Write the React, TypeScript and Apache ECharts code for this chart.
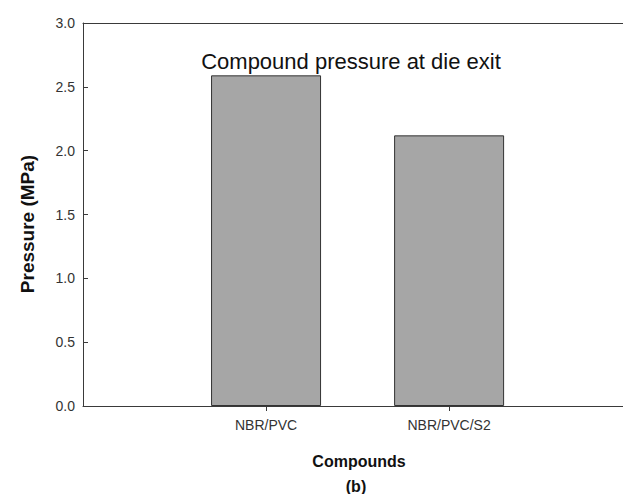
import React, { useEffect, useRef } from "react";
import * as echarts from "echarts";

const categories = ["NBR/PVC", "NBR/PVC/S2"];
const positions = [1, 2];
const pressures = [2.59, 2.12];
const yTicks = [0, 0.5, 1.0, 1.5, 2.0, 2.5, 3.0];

const FONT = '"Liberation Sans", Arial, Helvetica, sans-serif';

export default function App() {
  const ref = useRef<HTMLDivElement>(null);
  useEffect(() => {
    if (!ref.current) return;
    const chart = echarts.init(ref.current, null, { renderer: "svg" });
    const axisColor = "#3a3a3a";
    chart.setOption({
      animation: false,
      backgroundColor: "#ffffff",
      textStyle: { fontFamily: FONT },
      grid: { left: 83, top: 23, right: 0, bottom: 88 },
      xAxis: [
        {
          type: "value",
          min: 0,
          max: 2.95,
          interval: 1,
          position: "bottom",
          splitLine: { show: false },
          axisLine: { show: true, lineStyle: { color: axisColor, width: 1 } },
          axisTick: {
            show: true,
            inside: false,
            length: 5,
            customValues: positions,
            lineStyle: { color: axisColor },
          },
          axisLabel: {
            customValues: positions,
            margin: 12,
            fontSize: 14,
            color: "#333",
            fontFamily: FONT,
            formatter: (v: number) => {
              const i = positions.indexOf(Math.round(v));
              return i >= 0 ? categories[i] : "";
            },
          },
        },
        {
          type: "value",
          min: 0,
          max: 2.95,
          position: "top",
          splitLine: { show: false },
          axisLine: { show: true, lineStyle: { color: axisColor, width: 1 } },
          axisTick: { show: false },
          axisLabel: { show: false },
        },
      ],
      yAxis: {
        type: "value",
        min: yTicks[0],
        max: yTicks[yTicks.length - 1],
        interval: 0.5,
        splitLine: { show: false },
        axisLine: { show: true, lineStyle: { color: axisColor, width: 1 } },
        axisTick: { show: true, inside: true, length: 5, lineStyle: { color: axisColor } },
        axisLabel: {
          margin: 8,
          fontSize: 14,
          color: "#333",
          fontFamily: FONT,
          formatter: (v: number) => v.toFixed(1),
        },
      },
      series: [
        {
          type: "bar",
          xAxisIndex: 0,
          barWidth: 110,
          data: positions.map((p, i) => [p, pressures[i]]),
          itemStyle: { color: "#a6a6a6", borderColor: "#333333", borderWidth: 1 },
        },
      ],
      graphic: [
        {
          type: "text",
          x: 351,
          y: 61,
          style: {
            text: "Compound pressure at die exit",
            fontSize: 22,
            fontFamily: FONT,
            fill: "#111",
            align: "center",
            verticalAlign: "middle",
          },
        },
        {
          type: "text",
          x: 27,
          y: 224,
          rotation: Math.PI / 2,
          style: {
            text: "Pressure (MPa)",
            fontSize: 19,
            fontWeight: "bold",
            fontFamily: FONT,
            fill: "#111",
            align: "center",
            verticalAlign: "middle",
          },
        },
        {
          type: "text",
          x: 359,
          y: 461,
          style: {
            text: "Compounds",
            fontSize: 16,
            fontWeight: "bold",
            fontFamily: FONT,
            fill: "#111",
            align: "center",
            verticalAlign: "middle",
          },
        },
        {
          type: "text",
          x: 356,
          y: 486,
          style: {
            text: "(b)",
            fontSize: 16,
            fontWeight: "bold",
            fontFamily: FONT,
            fill: "#111",
            align: "center",
            verticalAlign: "middle",
          },
        },
      ],
    });
    return () => chart.dispose();
  }, []);
  return (
    <div
      ref={ref}
      style={{ position: "absolute", left: 0, top: 0, width: 623, height: 494, background: "#fff" }}
    />
  );
}
